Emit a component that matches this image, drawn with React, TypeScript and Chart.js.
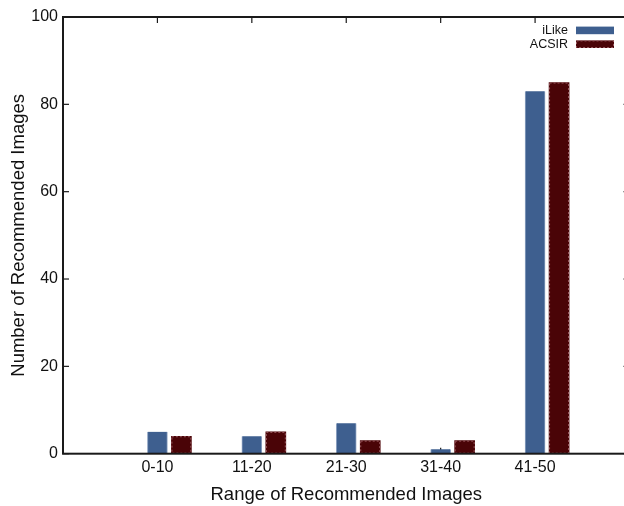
import React, { useEffect, useRef } from "react";
import { Chart, registerables } from "chart.js";

Chart.register(...registerables);

const CATEGORIES = ["0-10", "11-20", "21-30", "31-40", "41-50"];
const ILIKE = [5, 4, 7, 1, 83];
const ACSIR = [4, 5, 3, 3, 85];
const Y_TICKS = [0, 20, 40, 60, 80, 100];
const SERIES_LABELS = ["iLike", "ACSIR"];
const X_TITLE = "Range of Recommended Images";
const Y_TITLE = "Number of Recommended Images";

const RED_OFFSET = 0.254;
const FONT = '"Liberation Sans", Arial, Helvetica, sans-serif';
const BLUE = "#3e5f8f";
const RED = "#4a0407";

const framePlugin = {
  id: "frame",
  beforeDatasetsDraw(chart: any) {
    const { ctx, chartArea: a, scales } = chart;
    const xs = scales.x;
    const ys = scales.y;
    const tl = 6;
    ctx.save();
    ctx.strokeStyle = "#1a1a1a";
    ctx.lineWidth = 1.2;
    const line = (x1: number, y1: number, x2: number, y2: number) => {
      ctx.beginPath();
      ctx.moveTo(x1, y1);
      ctx.lineTo(x2, y2);
      ctx.stroke();
    };
    Y_TICKS.forEach((v) => {
      const py = ys.getPixelForValue(v);
      line(a.left, py, a.left + tl, py);
      line(a.right, py, a.right - tl, py);
    });
    CATEGORIES.forEach((_, i) => {
      const px = xs.getPixelForValue(i);
      line(px, a.top, px, a.top + tl);
      line(px, a.bottom, px, a.bottom - tl);
    });
    ctx.restore();
  },
  afterDatasetsDraw(chart: any) {
    const { ctx, chartArea: a } = chart;
    ctx.save();
    // dotted outline on ACSIR bars
    const meta = chart.getDatasetMeta(1);
    ctx.setLineDash([2, 2]);
    ctx.strokeStyle = "#9a5a60";
    ctx.lineWidth = 1;
    meta.data.forEach((el: any) => {
      const p = el.getProps(["x", "y", "base", "width"], true);
      ctx.strokeRect(p.x - p.width / 2 + 0.5, p.y + 0.5, p.width - 1, p.base - p.y - 1);
    });
    ctx.setLineDash([]);
    // frame
    ctx.strokeStyle = "#1a1a1a";
    ctx.lineWidth = 2;
    ctx.strokeRect(a.left, a.top, a.right - a.left, a.bottom - a.top);
    // legend
    const colors = [BLUE, RED];
    ctx.font = `12.5px ${FONT}`;
    ctx.textAlign = "right";
    ctx.textBaseline = "middle";
    const boxRight = a.right - 15.5;
    const boxW = 38;
    const rows = [30.4, 44.2];
    chart.data.datasets.forEach((ds: any, i: number) => {
      const cy = rows[i];
      ctx.fillStyle = "#111";
      ctx.fillText(ds.label, boxRight - boxW - 8, cy);
      ctx.fillStyle = colors[i];
      ctx.fillRect(boxRight - boxW, cy - 3.8, boxW, 7.6);
      if (i === 1) {
        ctx.setLineDash([2, 2]);
        ctx.strokeStyle = "#9a5a60";
        ctx.lineWidth = 1;
        ctx.strokeRect(boxRight - boxW + 0.5, cy - 3.8 + 0.5, boxW - 1, 6.6);
        ctx.setLineDash([]);
      }
    });
    ctx.restore();
  },
};

export default function App() {
  const ref = useRef<HTMLCanvasElement | null>(null);

  useEffect(() => {
    if (!ref.current) return;
    const chart = new Chart(ref.current, {
      type: "bar",
      data: {
        datasets: [
          {
            label: SERIES_LABELS[0],
            data: ILIKE.map((v, i) => ({ x: i, y: v })),
            backgroundColor: BLUE,
            borderColor: "#8ea3c2",
            borderWidth: { left: 1, right: 1, top: 0, bottom: 0 },
            barThickness: 20,
            grouped: false,
          },
          {
            label: SERIES_LABELS[1],
            data: ACSIR.map((v, i) => ({ x: i + RED_OFFSET, y: v })),
            backgroundColor: RED,
            borderWidth: 0,
            barThickness: 20,
            grouped: false,
          },
        ],
      } as any,
      options: {
        animation: false,
        responsive: false,
        maintainAspectRatio: false,
        layout: { padding: { top: 17, right: 2.5, left: 0, bottom: 0 } },
        plugins: {
          legend: { display: false },
          tooltip: { enabled: false },
        },
        scales: {
          x: {
            type: "linear",
            min: -1,
            max: 5,
            offset: false,
            grid: { display: false, drawTicks: false, offset: false },
            border: { display: false },
            afterBuildTicks: (scale: any) => {
              scale.ticks = CATEGORIES.map((_, i) => ({ value: i }));
            },
            afterFit: (scale: any) => {
              scale.height = 52.3;
            },
            ticks: {
              padding: 4.4,
              color: "#111",
              font: { family: FONT, size: 16 },
              callback: (v: any) => CATEGORIES[Math.round(Number(v))] ?? "",
              maxRotation: 0,
              autoSkip: false,
            },
            title: {
              display: true,
              text: X_TITLE,
              color: "#111",
              font: { family: FONT, size: 18.5 },
              padding: { top: 0, bottom: 0 },
            },
          },
          y: {
            type: "linear",
            min: 0,
            max: 100,
            grid: { display: false, drawTicks: false },
            border: { display: false },
            afterBuildTicks: (scale: any) => {
              scale.ticks = Y_TICKS.map((v) => ({ value: v }));
            },
            afterFit: (scale: any) => {
              scale.width = 63;
            },
            ticks: {
              padding: 5,
              color: "#111",
              font: { family: FONT, size: 16 },
            },
            title: {
              display: true,
              text: Y_TITLE,
              color: "#111",
              font: { family: FONT, size: 18.5 },
              padding: { top: 8, bottom: 0 },
            },
          },
        },
      } as any,
      plugins: [framePlugin],
    });
    return () => chart.destroy();
  }, []);

  return (
    <div
      style={{
        position: "fixed",
        left: 0,
        top: 0,
        width: 624,
        height: 506,
        overflow: "hidden",
        background: "#fff",
      }}
    >
      <canvas ref={ref} width={632} height={506} style={{ display: "block" }} />
    </div>
  );
}
